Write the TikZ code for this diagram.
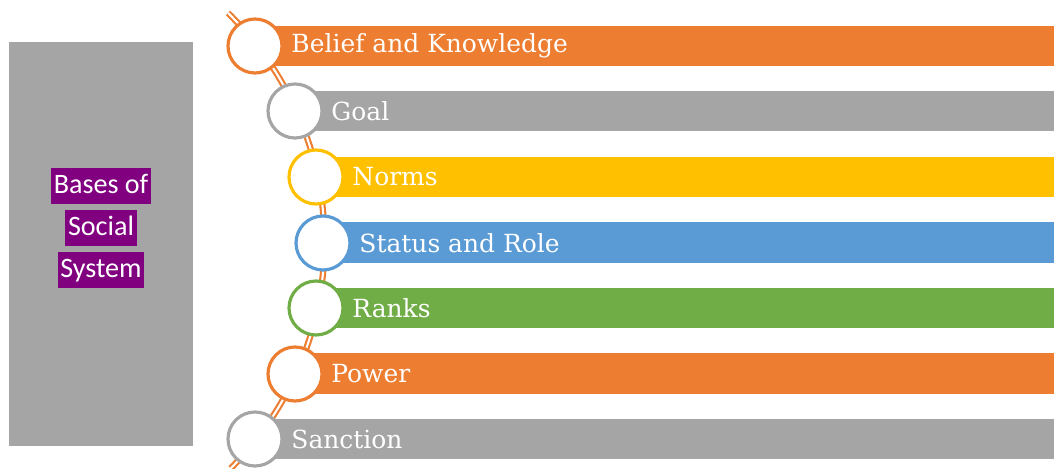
\documentclass[tikz,border=0pt]{standalone}
\usepackage{fontspec}
\setmainfont{DejaVu Serif}
\newfontfamily\calib{Carlito}
\usetikzlibrary{positioning}
\definecolor{accOrange}{HTML}{ED7D31}
\definecolor{accGrey}{HTML}{A5A5A5}
\definecolor{accGold}{HTML}{FFC000}
\definecolor{accBlue}{HTML}{5B9BD5}
\definecolor{accGreen}{HTML}{70AD47}
\definecolor{accPurple}{HTML}{800080}
\tikzset{
  ring/.style={circle,draw,line width=1.8pt,fill=white,minimum size=1.08cm,inner sep=0pt},
  lbl/.style={text=white,font=\fontsize{14.2}{16}\selectfont,inner sep=0pt,anchor=west},
  hilite/.style={fill=accPurple,text=white,font=\calib\fontsize{16}{18}\selectfont,
    text height=12pt,text depth=4pt,inner xsep=1.5pt,inner ysep=2.2pt}
}
\begin{document}
\begin{tikzpicture}[x=0.02cm,y=-0.02cm]
	\useasboundingbox (0,0) rectangle (1054,469);
	% left block
	\fill[accGrey] (9,42) rectangle (193,446);
	\node[hilite] (t1) at (101,186) {Bases of};
	\node[hilite] (t2) at (101,228) {Social};
	\node[hilite] (t3) at (101,270) {System};

	% the double curve
	\draw[accOrange,line width=1.2pt,double=white,double distance=1.2pt] (228,13) arc[start angle=-45.7,end angle=45,radius=320];

	% bars
	\fill[accOrange] (255,26) rectangle (1054,66);
	\fill[accGrey] (295,91) rectangle (1054,131);
	\fill[accGold] (316,157) rectangle (1054,197);
	\fill[accBlue] (323,222) rectangle (1054,263);
	\fill[accGreen] (316,288) rectangle (1054,328);
	\fill[accOrange] (295,353) rectangle (1054,394);
	\fill[accGrey] (255,419) rectangle (1054,459);

	% circles
	\node[ring,draw=accOrange] (c1) at (255,46) {};
	\node[ring,draw=accGrey] (c2) at (295,111) {};
	\node[ring,draw=accGold] (c3) at (316,177) {};
	\node[ring,draw=accBlue] (c4) at (323,243) {};
	\node[ring,draw=accGreen] (c5) at (316,308) {};
	\node[ring,draw=accOrange] (c6) at (295,374) {};
	\node[ring,draw=accGrey] (c7) at (255,439) {};

	% labels
	\node[lbl,right=0.15cm of c1] (l1) {Belief and Knowledge};
	\node[lbl,right=0.15cm of c2] (l2) {Goal};
	\node[lbl,right=0.15cm of c3] (l3) {Norms};
	\node[lbl,right=0.15cm of c4] (l4) {Status and Role};
	\node[lbl,right=0.15cm of c5] (l5) {Ranks};
	\node[lbl,right=0.15cm of c6] (l6) {Power};
	\node[lbl,right=0.15cm of c7] (l7) {Sanction};
\end{tikzpicture}
\end{document}
